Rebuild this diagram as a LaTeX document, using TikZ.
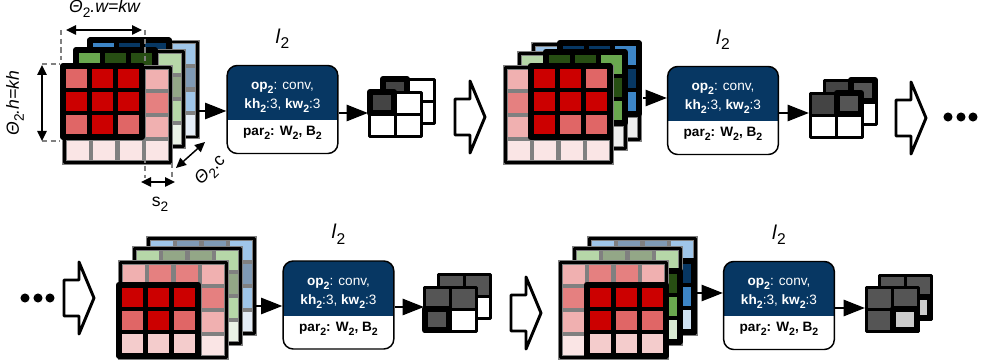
\documentclass[tikz,border=0pt]{standalone}
\usepackage{fontspec}
\setmainfont{Liberation Sans}
\usetikzlibrary{arrows.meta, calc}

% Shades: 1 full, 2 medium, 3 light (in the window), 4-6 outside the window
\definecolor{r1}{HTML}{CC0000}\definecolor{r2}{HTML}{E06666}\definecolor{r3}{HTML}{F4CCCC}
\definecolor{r4}{HTML}{F0B0B0}\definecolor{r5}{HTML}{E58080}\definecolor{r6}{HTML}{FAE5E5}
\definecolor{g1}{HTML}{274E13}\definecolor{g2}{HTML}{6AA84F}\definecolor{g3}{HTML}{D9EAD3}
\definecolor{g4}{HTML}{B6D7A8}\definecolor{g5}{HTML}{93A787}\definecolor{g6}{HTML}{EAF2E6}
\definecolor{b1}{HTML}{073763}\definecolor{b2}{HTML}{3D85C6}\definecolor{b3}{HTML}{CFE2F3}
\definecolor{b4}{HTML}{9FC5E8}\definecolor{b5}{HTML}{7F9AB5}\definecolor{b6}{HTML}{E4EDF7}
\definecolor{navy}{HTML}{073763}
\definecolor{gridgray}{HTML}{808080}
\definecolor{outdark}{HTML}{555555}
\definecolor{outlight}{HTML}{CCCCCC}
\definecolor{palecorner}{HTML}{EEEEEE}

\newcommand{\two}{\raisebox{-.55ex}{\scalebox{.78}{2}}}

\tikzset{
    cellgrid/.style={draw=gridgray, line width=3.2pt},
    frame/.style={draw=black, line width=2.2pt, line join=round},
    window/.style={draw=black, fill=black, line width=4.5pt, line join=round},
    opbox/.style={draw=black, line width=1.1pt, fill=white, rounded corners=7.5pt, minimum width=83pt, minimum height=66pt, inner sep=0pt},
    optext/.style={font=\fontsize{10.2}{12}\selectfont, inner sep=0pt, anchor=base},
    layername/.style={font=\fontsize{15}{17}\selectfont, inner sep=0pt},
    dimtext/.style={font=\fontsize{13.2}{15}\selectfont, inner sep=0pt},
    dimline/.style={<->, >={Triangle[length=7.5pt, width=7pt]}, line width=1.1pt},
    guide/.style={draw=gridgray, dash pattern=on 4pt off 2.5pt, line width=1.1pt},
    feed/.style={-{Triangle[length=16pt, width=12pt]}, line width=2pt},
    bigarrow/.style={draw=black, fill=white, line width=2.2pt, line join=round},
    dotmark/.style={circle, fill=black, minimum size=6.8pt, inner sep=0pt}
}

% x, y, hue, window column, window row, corner colour, window shades
\newcommand{\fmap}[7]{
    \begin{scope}[shift={(#1,#2)}]
        \fill[white] (0,0) rectangle (106,95);
        \foreach \c/\r/\s in {0/0/4,1/0/5,2/0/5,3/0/4,0/1/5,3/1/5,0/2/4,3/2/4,0/3/6,1/3/6,2/3/6}
            \filldraw[cellgrid, fill=#3\s] ({\c*26.5},{\r*23.75}) rectangle +(26.5,23.75);
        \filldraw[cellgrid, fill=#6] (79.5,71.25) rectangle +(26.5,23.75);
        \draw[frame] (0,0) rectangle (106,95);
        \begin{scope}[shift={({#4*26.5-1.5},{#5*23.75-1.5})}]
            \draw[window] (0,0) rectangle (79,71);
            \foreach \s [count=\i from 0] in {#7} {
                \pgfmathtruncatemacro\cw{mod(\i,3)}
                \pgfmathtruncatemacro\rw{int(\i/3)}
                \fill[#3\s] ({3+\cw*26},{3+\rw*23}) rectangle +(21,19);
            }
        \end{scope}
    \end{scope}
}

% x, y, thick column, thick row, the four cell colours
\newcommand{\outmap}[8]{
    \begin{scope}[shift={(#1,#2)}]
        \fill[#5] (0,0) rectangle (26,22);
        \fill[#6] (26,0) rectangle (52,22);
        \fill[#7] (0,22) rectangle (26,44);
        \fill[#8] (26,22) rectangle (52,44);
        \draw[frame] (0,0) rectangle (52,44) (26,0) -- (26,44) (0,22) -- (52,22);
        \draw[black, line width=4.5pt, line join=round] ({#3*26+.5},{#4*22-.5}) rectangle +(24,21.5);
    \end{scope}
}

% name, centre x, centre y
\newcommand{\opblock}[3]{
    \node[opbox, path picture={\fill[navy, sharp corners] (path picture bounding box.north west) rectangle ($(path picture bounding box.north east)+(0,55)$);}] (box#1) at (#2,#3) {};
    \node[optext, text=white] (opline#1) at ($(box#1.north)+(0,25)$) {\textbf{op\two}: conv,};
    \node[optext, text=white] (kline#1) at ($(box#1.north)+(0,44)$) {\textbf{kh\two}:3, \textbf{kw\two}:3};
    \node[optext] (parline#1) at ($(box#1.north)+(0,71)$) {\textbf{par\two: W\two, B\two}};
    \node[layername] (layer#1) at ($(box#1.north)+(0,-26)$) {\textit{l}\two};
}

% left x, centre y
\newcommand{\flowarrow}[2]{
    \draw[bigarrow] (#1,#2-18) -- ++(15,0) -- ++(0,-18) -- ++(15,36) -- ++(-15,36) -- ++(0,-18) -- ++(-15,0) -- cycle;
}

\begin{document}
\begin{tikzpicture}[x=.75pt, y=-.75pt]
\useasboundingbox (0,0) rectangle (986,363);

% First map
\fmap{91.5}{42}{b}{0}{0}{b6}{2,1,1,1,1,1,2,1,2}
\fmap{77.5}{51.5}{g}{0}{0}{g6}{2,1,1,1,1,1,2,1,2}
\fmap{64.5}{67.5}{r}{0}{0}{r6}{2,1,1,1,1,1,2,1,2}

% Guides and sizes
\draw[guide] (61,30) -- (61,60);
\draw[guide] (145,30) -- (145,66);
\draw[guide] (145,140) -- (145,178);
\draw[guide] (172,163) -- (172,178);
\draw[guide] (42,64) -- (60,64);
\draw[guide] (42,141) -- (60,141);
\coordinate (wleft) at (66,30);
\coordinate (wright) at (142,30);
\coordinate (htop) at (42,65);
\coordinate (hbottom) at (42,141);
\coordinate (sleft) at (141,182);
\coordinate (sright) at (175,182);
\coordinate (cfront) at (176,168);
\coordinate (cback) at (205,142);
\draw[dimline] (wleft) -- (wright);
\draw[dimline] (htop) -- (hbottom);
\draw[dimline] (sleft) -- (sright);
\draw[dimline] (cfront) -- (cback);
\node[dimtext] (wlabel) at (105,9) {\textit{Θ}\two\textit{.w=kw}};
\node[dimtext, rotate=90] (hlabel) at (15,103) {\textit{Θ}\two\textit{.h=kh}};
\node[dimtext] (slabel) at (160,204) {s\two};
\node[dimtext, rotate=45] (clabel) at (211,171) {\textit{Θ}\two.c};

% Second map
\fmap{533.5}{44.5}{b}{1.04}{0}{palecorner}{1,1,2,1,1,1,1,1,2}
\fmap{519.5}{53.5}{g}{1.04}{0}{palecorner}{1,1,2,1,1,1,1,1,2}
\fmap{505.5}{67.5}{r}{1}{0}{r6}{1,1,2,1,1,1,1,2,2}

% Third map
\fmap{148.5}{238.5}{b}{0}{1}{b6}{1,1,1,2,1,2,3,3,3}
\fmap{134.5}{248.5}{g}{0}{1}{g6}{1,1,1,2,1,2,3,3,3}
\fmap{120.5}{262.5}{r}{0}{1}{r6}{1,1,1,2,1,2,3,3,3}

% Fourth map
\fmap{589.5}{238.5}{b}{1}{1}{b6}{1,1,1,1,2,2,3,3,3}
\fmap{574.5}{248.5}{g}{1.04}{1}{g6}{1,1,1,1,2,2,3,3,3}
\fmap{560.5}{262.5}{r}{1.05}{1}{r6}{1,1,1,1,2,2,3,3,3}

% Layers
\opblock{1}{282.5}{109.5}
\opblock{2}{723}{110.5}
\opblock{3}{338.5}{305}
\opblock{4}{779}{305.5}

% Outputs
\outmap{382.5}{79.5}{0}{0}{outdark!80!black}{white}{white}{white}
\outmap{369.5}{92.5}{0}{0}{outdark!80!black}{white}{white}{white}
\outmap{824.5}{80.5}{1}{0}{outdark!80!black}{outdark}{white}{white}
\outmap{810.5}{93.5}{1}{0}{outdark!80!black}{outdark}{white}{white}
\outmap{438.5}{274.5}{0}{1}{outdark}{outdark}{outdark}{white}
\outmap{424.5}{287.5}{0}{1}{outdark}{outdark}{outdark}{white}
\outmap{879.5}{275.5}{1}{1}{outdark}{outdark}{outdark}{outlight}
\outmap{866.5}{287.5}{1}{1}{outdark}{outdark}{outdark}{outlight}

% Connectors
\coordinate (mapout1) at (199,111);
\coordinate (mapout2) at (643,98);
\coordinate (mapout3) at (256,306);
\coordinate (mapout4) at (697,293);
\coordinate (res1) at (368,113);
\coordinate (res2) at (809,113);
\coordinate (res3) at (424,307);
\coordinate (res4) at (865,308);
\foreach \i in {1,2,3,4} {
    \draw[feed] (mapout\i) -- (mapout\i -| box\i.west);
    \draw[feed] (res\i -| box\i.east) -- (res\i);
}

% Between the stages
\flowarrow{455}{117}
\flowarrow{896}{118}
\flowarrow{64}{298}
\flowarrow{511}{313}
\foreach \x in {948,961,973}
    \node[dotmark] (dota\x) at (\x,117) {};
\foreach \x in {25,38,50}
    \node[dotmark] (dotb\x) at (\x,298) {};

\end{tikzpicture}
\end{document}
